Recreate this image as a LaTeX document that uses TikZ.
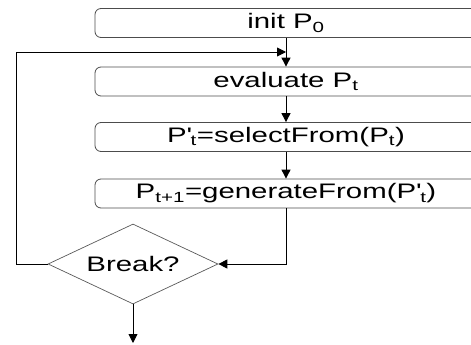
\documentclass[tikz,border=0pt]{standalone}
\usepackage{fontspec}
\setmainfont[FakeStretch=1.4]{Liberation Sans}
\usetikzlibrary{shapes.geometric,arrows.meta}
\begin{document}
\begin{tikzpicture}[x=1pt,y=-1pt,
  box/.style={draw=black!70, line width=0.8pt, rounded corners=6pt, minimum width=382pt, minimum height=29pt, inner sep=0pt, font=\fontsize{21}{24}\selectfont},
  dec/.style={draw=black!65, line width=0.7pt, diamond, aspect=2.125, minimum width=170pt, minimum height=80pt, inner sep=0pt, font=\fontsize{21}{24}\selectfont},
  conn/.style={draw=black, line width=0.9pt, -{Triangle[length=9pt,width=9pt]}},
  line/.style={draw=black, line width=0.9pt}]
\clip (0,0) rectangle (471,345);
\node[box] (b1) at (286,23) {init P\textsubscript{0}};
\node[box] (b2) at (286,81.5) {evaluate P\textsubscript{t}};
\node[box] (b3) at (286,137) {P\textquotesingle\textsubscript{t}=selectFrom(P\textsubscript{t})};
\node[box] (b4) at (286,193.5) {P\textsubscript{t+1}=generateFrom(P\textquotesingle\textsubscript{t})};
\node[dec] (d) at (133,264) {Break?};
\coordinate (lpa) at (16,264);
\coordinate (lpb) at (16,52);
\coordinate (join) at (286,52);
\coordinate (out) at (133,343);
\draw[conn] (b1) -- (b2);
\draw[conn] (b2) -- (b3);
\draw[conn] (b3) -- (b4);
\draw[conn] (d.west) -- (lpa) -- (lpb) -- (join);
\draw[conn] (b4.south) |- (d.east);
\draw[conn] (d.south) -- (out);
\end{tikzpicture}
\end{document}
